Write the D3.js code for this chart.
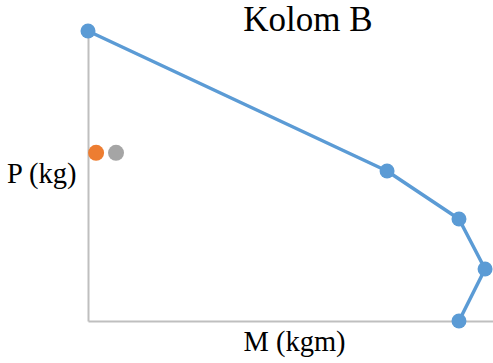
<!DOCTYPE html>
<html>
<head>
<meta charset="utf-8">
<script src="https://cdn.jsdelivr.net/npm/d3@7"></script>
<style>
  html, body { margin: 0; padding: 0; background: #fff; }
  svg { display: block; }
</style>
</head>
<body>
<svg id="chart" width="493" height="363"></svg>
<script>
// Interaction diagram for column B: moment M (kgm) vs axial load P (kg)
const capacityM = [0, 18460, 22900, 24510, 22900];
const capacityP = [300000, 155200, 105500, 53800, 0];
const loadM = [500];
const loadP = [174000];
const load2M = [1730];
const load2P = [174000];

const titleText = "Kolom B";
const xLabel = "M (kgm)";
const yLabel = "P (kg)";

const serif = "\"Liberation Serif\", \"Times New Roman\", serif";

const svg = d3.select("#chart");
const x = d3.scaleLinear().domain([0, 25000]).range([88, 493]);
const y = d3.scaleLinear().domain([0, 300000]).range([321, 31]);

const axisColor = "#BFBFBF";

// Axes: plain lines, no ticks
const yAxis = d3.axisLeft(y).tickValues([]).tickSizeOuter(0);
const xAxis = d3.axisBottom(x).tickValues([]).tickSizeOuter(0);
const gy = svg.append("g").attr("transform", `translate(${x(0)},0)`).call(yAxis);
const gx = svg.append("g").attr("transform", `translate(0,${y(0)})`).call(xAxis);
[gx, gy].forEach(g => g.select(".domain").attr("stroke", axisColor).attr("stroke-width", 2));

// Capacity curve
const pts = capacityM.map((m, i) => ({ m, p: capacityP[i] }));
svg.append("path")
  .datum(pts)
  .attr("fill", "none")
  .attr("stroke", "#5B9BD5")
  .attr("stroke-width", 3.5)
  .attr("stroke-linejoin", "round")
  .attr("d", d3.line().x(d => x(d.m)).y(d => y(d.p)));

svg.append("g").selectAll("circle").data(pts).join("circle")
  .attr("cx", d => x(d.m)).attr("cy", d => y(d.p)).attr("r", 7.5)
  .attr("fill", "#5B9BD5");

// Load points
svg.append("g").selectAll("circle").data(loadM.map((m, i) => ({ m, p: loadP[i] }))).join("circle")
  .attr("cx", d => x(d.m)).attr("cy", d => y(d.p)).attr("r", 8)
  .attr("fill", "#ED7D31");
svg.append("g").selectAll("circle").data(load2M.map((m, i) => ({ m, p: load2P[i] }))).join("circle")
  .attr("cx", d => x(d.m)).attr("cy", d => y(d.p)).attr("r", 8)
  .attr("fill", "#A5A5A5");

// Text
const addText = (tx, ty, anchor, size, str) =>
  svg.append("text").attr("x", tx).attr("y", ty).attr("text-anchor", anchor)
    .style("font-family", serif).style("font-size", size + "px").attr("fill", "#000").text(str);

addText(308, 31, "middle", 35, titleText);
addText(7, 183, "start", 28.5, yLabel);
addText(294.5, 351, "middle", 28.5, xLabel);
</script>
</body>
</html>
